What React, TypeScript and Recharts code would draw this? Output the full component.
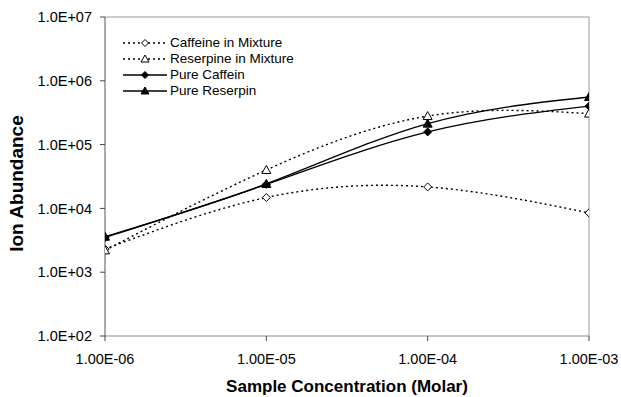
import React from 'react';
import { LineChart, Line, XAxis, YAxis, ReferenceLine } from 'recharts';

// sample concentrations (Molar) and ion abundances
const concentrations = [1e-6, 1e-5, 1e-4, 1e-3];
const caffeineMixture = [2300, 14800, 21700, 8500];
const reserpineMixture = [2200, 40000, 280000, 306000];
const pureCaffein = [3500, 23800, 158000, 400000];
const pureReserpin = [3600, 24200, 213000, 557000];

const xTicks = [1e-6, 1e-5, 1e-4, 1e-3];
const yTicks = [1e2, 1e3, 1e4, 1e5, 1e6, 1e7];

const data = concentrations.map((x, i) => ({
  x,
  caffeineMix: caffeineMixture[i],
  reserpineMix: reserpineMixture[i],
  pureCaffein: pureCaffein[i],
  pureReserpin: pureReserpin[i],
}));

const FONT = '"Liberation Sans", Arial, sans-serif';

// 1.0E+07 style labels
const sci = (v: number, digits: number) => {
  const [m, e] = v.toExponential(digits).split('e');
  const n = Number(e);
  return `${m}E${n < 0 ? '-' : '+'}${String(Math.abs(n)).padStart(2, '0')}`;
};

type Shape = 'diamond' | 'triangle';

const markerPath = (shape: Shape, cx: number, cy: number, r = 4) => {
  if (shape === 'diamond') {
    return `M${cx},${cy - r}L${cx + r},${cy}L${cx},${cy + r}L${cx - r},${cy}Z`;
  }
  return `M${cx},${cy - r - 0.5}L${cx + r + 0.5},${cy + r - 0.5}L${cx - r - 0.5},${cy + r - 0.5}Z`;
};

const makeDot = (shape: Shape, filled: boolean) => (props: any) => {
  const { cx, cy, index } = props;
  if (cx == null || cy == null) return <g key={`d-${index}`} />;
  return (
    <path
      key={`d-${index}`}
      d={markerPath(shape, cx, cy)}
      fill={filled ? '#000' : '#fff'}
      stroke="#000"
      strokeWidth={1}
    />
  );
};

const series = [
  { key: 'caffeineMix', name: 'Caffeine in Mixture', shape: 'diamond' as Shape, filled: false, dash: '2 3' },
  { key: 'reserpineMix', name: 'Reserpine in Mixture', shape: 'triangle' as Shape, filled: false, dash: '2 3' },
  { key: 'pureCaffein', name: 'Pure Caffein', shape: 'diamond' as Shape, filled: true, dash: undefined },
  { key: 'pureReserpin', name: 'Pure Reserpin', shape: 'triangle' as Shape, filled: true, dash: undefined },
];

function ChartLegend() {
  return (
    <div style={{ position: 'absolute', left: 120, top: 35, fontFamily: FONT, fontSize: 13.5, color: '#000' }}>
      {series.map(s => (
        <div key={s.key} style={{ display: 'flex', alignItems: 'center', height: 16 }}>
          <svg width={50} height={16}>
            <line x1={3} x2={47} y1={8} y2={8} stroke="#000" strokeWidth={1.3} strokeDasharray={s.dash} />
            <path d={markerPath(s.shape, 25, 8, 3.5)} fill={s.filled ? '#000' : '#fff'} stroke="#000" strokeWidth={1} />
          </svg>
          <span style={{ lineHeight: '16px', whiteSpace: 'nowrap' }}>{s.name}</span>
        </div>
      ))}
    </div>
  );
}

const YTitle = (props: any) => {
  const { x, y, height } = props.viewBox;
  const cx = x + 16;
  const cy = y + height / 2 + 7;
  return (
    <text
      x={cx}
      y={cy}
      transform={`rotate(-90, ${cx}, ${cy})`}
      textAnchor="middle"
      dominantBaseline="central"
      fontFamily={FONT}
      fontWeight={700}
      fontSize={19}
      fill="#000"
    >
      Ion Abundance
    </text>
  );
};

export default function App() {
  return (
    <div style={{ position: 'absolute', left: 0, top: 0, width: 621, height: 397, background: '#fff' }}>
      <LineChart width={621} height={397} data={data} margin={{ top: 17, right: 32, bottom: 0, left: 0 }}>
        <XAxis
          dataKey="x"
          type="number"
          scale="log"
          domain={[1e-6, 1e-3]}
          ticks={xTicks}
          allowDataOverflow
          height={61}
          tickSize={5}
          tickMargin={13}
          tickFormatter={(v: number) => sci(v, 2)}
          tick={{ fill: '#000', fontSize: 14.5, fontFamily: FONT }}
          axisLine={{ stroke: '#888' }}
          tickLine={{ stroke: '#444' }}
          label={{
            value: 'Sample Concentration (Molar)',
            position: 'insideBottom',
            offset: 5,
            style: { fontFamily: FONT, fontWeight: 700, fontSize: 17, fill: '#000' },
          }}
        />
        <YAxis
          type="number"
          scale="log"
          domain={[1e2, 1e7]}
          ticks={yTicks}
          allowDataOverflow
          width={105}
          tickSize={5}
          tickMargin={8}
          tickFormatter={(v: number) => sci(v, 1)}
          tick={{ fill: '#000', fontSize: 14.5, fontFamily: FONT }}
          axisLine={{ stroke: '#555' }}
          tickLine={{ stroke: '#444' }}
          label={<YTitle />}
        />
        <ReferenceLine y={1e7} stroke="#999" />
        <ReferenceLine x={1e-3} stroke="#999" />
        {series.map(s => (
          <Line
            key={s.key}
            dataKey={s.key}
            name={s.name}
            type="natural"
            stroke="#000"
            strokeWidth={s.dash ? 1.4 : 1.3}
            strokeDasharray={s.dash}
            dot={makeDot(s.shape, s.filled)}
            activeDot={false}
            isAnimationActive={false}
          />
        ))}
      </LineChart>
      <ChartLegend />
    </div>
  );
}
